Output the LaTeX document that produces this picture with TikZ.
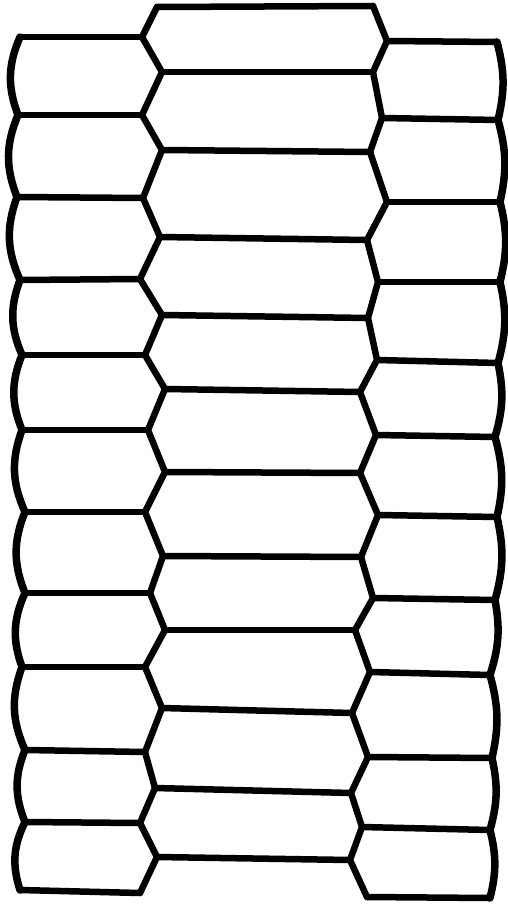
\documentclass[tikz,border=0pt]{standalone}
\begin{document}
\begin{tikzpicture}[x=1pt,y=-1pt]
\tikzset{wall/.style={line width=6.5pt, line join=round, line cap=round},
outer/.style={line width=7.5pt, line join=round, line cap=round}}
\useasboundingbox[fill=white] (0,0) rectangle (507,904);
% left zigzag
\draw[wall] (157,7) -- (142,37) -- (162,72) -- (142,115) -- (162,150) -- (143,198) -- (160,237) -- (140,279) -- (162,315) -- (145,355) -- (165,389) -- (148,430) -- (165,472) -- (145,512) -- (163,556) -- (150,593) -- (165,630) -- (145,667) -- (162,708) -- (145,752) -- (155,788) -- (140,823) -- (157,857) -- (140,893);
% right zigzag
\draw[wall] (373,6) -- (387,41) -- (373,72) -- (382,118) -- (370,152) -- (387,202) -- (367,240) -- (378,282) -- (368,318) -- (377,360) -- (360,392) -- (376,435) -- (360,473) -- (378,515) -- (361,557) -- (373,598) -- (355,630) -- (370,672) -- (352,713) -- (368,757) -- (351,793) -- (362,827) -- (350,860) -- (367,897);
% middle walls
\foreach \a/\b/\c/\d in {157/7/373/6,162/72/373/72,162/150/370/152,160/237/367/240,162/315/368/318,165/389/360/392,165/472/360/473,163/556/361/557,165/630/355/630,162/708/352/713,155/788/351/793,157/857/350/860}
  \draw[wall] (\a,\b) -- (\c,\d);
% left walls
\foreach \a/\b/\c/\d in {20/37/142/37,18/115/142/115,17/197/143/198,20/280/140/279,22/355/145/355,22/430/148/430,25/512/145/512,25/593/150/593,22/667/145/667,25/750/145/752,25/822/140/823,20/890/140/893}
  \draw[wall] (\a,\b) -- (\c,\d);
% right walls
\foreach \a/\b/\c/\d in {387/41/497/42,382/118/498/120,387/202/500/202,378/282/500/282,377/360/498/363,376/435/495/437,378/515/497/517,373/598/495/600,370/672/490/675,368/757/492/758,362/827/490/830,367/897/490/898}
  \draw[wall] (\a,\b) -- (\c,\d);
% outer left edge
\draw[outer] (20,37) to[bend right=22] (18,115) to[bend right=22] (17,197) to[bend right=22] (20,280) to[bend right=22] (22,355) to[bend right=22] (22,430) to[bend right=22] (25,512) to[bend right=22] (25,593) to[bend right=22] (22,667) to[bend right=22] (25,750) to[bend right=22] (25,822) to[bend right=22] (20,890);
% outer right edge
\draw[outer] (497,42) to[bend left=14] (498,120) to[bend left=14] (500,202) to[bend left=14] (500,282) to[bend left=14] (498,363) to[bend left=14] (495,437) to[bend left=14] (497,517) to[bend left=14] (495,600) to[bend left=14] (490,675) to[bend left=14] (492,758) to[bend left=14] (490,830) to[bend left=14] (490,898);
\end{tikzpicture}
\end{document}
